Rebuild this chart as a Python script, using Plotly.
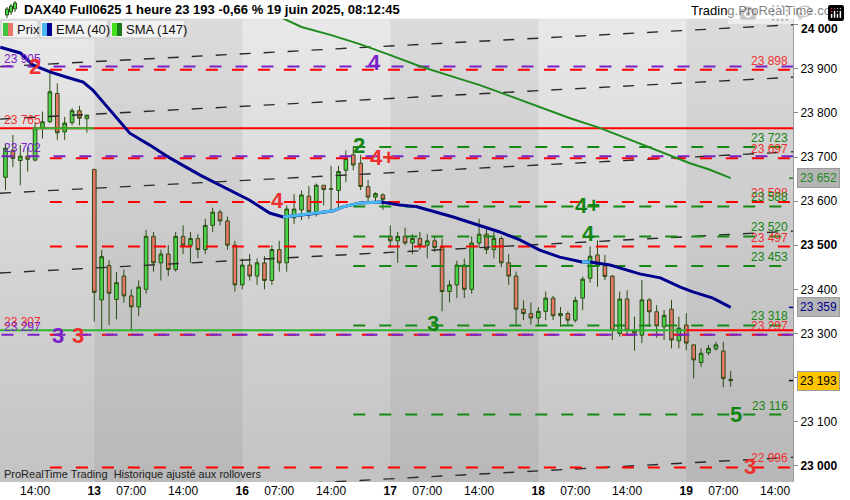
import plotly.graph_objects as go

# ---------------- data ----------------
# bar index: 0 = 13 June 02:00 ; 20 hourly bars per day (02:00 .. 21:00)
bar_idx = list(range(-12, 87))
opens = [23654, 23715, 23692, 23702, 23693, 23765, 23780, 23844, 23757, 23778, 23805, 23787,
         23672, 23376, 23454, 23377, 23430, 23385, 23360, 23400, 23520, 23460, 23480, 23445, 23520, 23500, 23515, 23490, 23545, 23575, 23555, 23500,
         23410, 23455, 23430, 23460, 23420, 23490, 23460, 23562, 23580, 23611, 23576, 23636, 23627, 23624, 23670, 23705, 23686, 23633, 23609, 23614,
         23520, 23510, 23520, 23505, 23515, 23500, 23510, 23495, 23395, 23410, 23455, 23400, 23505, 23525, 23490, 23515, 23460, 23430, 23355, 23345,
         23335, 23350, 23380, 23340, 23345, 23330, 23380, 23425, 23478, 23453, 23430, 23300, 23378, 23307, 23296, 23376, 23349, 23315, 23355, 23283,
         23319, 23274, 23234, 23256, 23265, 23260, 23196]
highs = [23731, 23750, 23727, 23723, 23777, 23803, 23896, 23867, 23791, 23811, 23816, 23795,
         23672, 23489, 23466, 23439, 23445, 23400, 23420, 23535, 23530, 23490, 23500, 23530, 23545, 23530, 23525, 23560, 23585, 23580, 23565, 23510,
         23470, 23480, 23470, 23475, 23500, 23510, 23590, 23616, 23624, 23634, 23640, 23636, 23680, 23680, 23715, 23724, 23705, 23648, 23620, 23618,
         23545, 23530, 23540, 23525, 23530, 23525, 23520, 23515, 23420, 23465, 23470, 23520, 23560, 23540, 23530, 23520, 23480, 23440, 23375, 23370,
         23360, 23395, 23385, 23360, 23350, 23383, 23429, 23497, 23511, 23478, 23432, 23395, 23398, 23338, 23421, 23380, 23364, 23353, 23376, 23338,
         23346, 23274, 23266, 23274, 23281, 23281, 23215]
lows = [23625, 23677, 23636, 23667, 23690, 23742, 23777, 23739, 23739, 23772, 23772, 23755,
        23327, 23308, 23319, 23332, 23370, 23305, 23340, 23390, 23440, 23420, 23430, 23440, 23480, 23460, 23470, 23480, 23530, 23545, 23490, 23395,
        23400, 23420, 23410, 23400, 23410, 23440, 23440, 23548, 23557, 23560, 23565, 23590, 23575, 23580, 23643, 23670, 23625, 23595, 23600, 23580,
        23495, 23460, 23500, 23480, 23490, 23470, 23485, 23350, 23370, 23380, 23380, 23390, 23495, 23480, 23470, 23450, 23410, 23320, 23330, 23320,
        23315, 23330, 23330, 23315, 23320, 23325, 23353, 23415, 23406, 23421, 23285, 23293, 23296, 23261, 23278, 23315, 23290, 23285, 23266, 23266,
        23262, 23198, 23224, 23251, 23261, 23178, 23179]
closes = [23720, 23697, 23702, 23695, 23766, 23780, 23848, 23755, 23777, 23805, 23788, 23795,
          23393, 23474, 23391, 23415, 23385, 23360, 23405, 23520, 23460, 23480, 23445, 23520, 23500, 23515, 23490, 23545, 23575, 23555, 23500, 23410,
          23455, 23430, 23460, 23420, 23490, 23460, 23582, 23582, 23614, 23576, 23636, 23626, 23628, 23667, 23697, 23682, 23633, 23609, 23617, 23604,
          23510, 23520, 23505, 23515, 23500, 23510, 23495, 23395, 23410, 23455, 23400, 23505, 23525, 23490, 23515, 23460, 23430, 23355, 23345, 23335,
          23350, 23380, 23340, 23345, 23330, 23375, 23423, 23475, 23453, 23429, 23307, 23378, 23307, 23301, 23376, 23349, 23317, 23341, 23285, 23312,
          23278, 23240, 23255, 23266, 23274, 23198, 23193]

# EMA(40) read at sample bars
ema_idx = [-12.7, -10.0, -8.3, -6.0, -3.7, -1.5, -0.2, 2.1, 3.5, 4.8, 7.5, 10.2, 14.3, 18.3, 21.0, 23.7, 25.5,
           29.2, 32.3, 33.6, 35.9, 38.8, 41.3, 43.6, 46.3, 48.5, 54.8, 57.5, 60.2, 62.9, 65.9, 67.0,
           69.7, 72.0, 73.7, 76.5, 79.2, 80.9, 83.6, 86.0]
ema_val = [23949, 23936, 23909, 23893, 23881, 23870, 23852, 23807, 23777, 23754, 23727, 23698, 23659, 23625, 23602, 23573, 23564,
           23571, 23578, 23587, 23596, 23598, 23591, 23587, 23575, 23564, 23530, 23512, 23489, 23473, 23462, 23462,
           23455, 23444, 23435, 23426, 23405, 23394, 23380, 23359]
ema_rising = [(25.5, 38.8), (65.9, 67.0)]

# SMA(147) read at sample bars
sma_idx = [23.5, 28.0, 31.9, 35.9, 40.0, 44.0, 48.1, 52.1, 56.2, 60.2, 64.3, 68.3, 72.4, 75.1, 77.8, 80.5, 83.2, 86.0]
sma_val = [24030, 23995, 23977, 23956, 23931, 23906, 23884, 23863, 23838, 23813, 23788, 23766, 23739, 23720, 23702, 23686, 23671, 23652]

# horizontal levels
purple_levels = [23905, 23702, 23297]
red_levels = [23898, 23697, 23598, 23497, 23297, 22996]
green_levels = [23723, 23588, 23520, 23453, 23318, 23116]
red_solid = 23765
green_solid_short = 23765
support_level = 23307

# trend channel (value at left edge, value at right edge)
trend_left = [23905, 23786, 23618, 23437, 22923]
trend_right = [24000, 23881, 23712, 23532, 23019]

# x tick labels
tick_idx = [-8, 0, 5, 12, 20, 25, 32, 40, 45, 52, 60, 65, 72, 80, 85, 92]
tick_txt = ["14:00", "<b>13</b>", "07:00", "14:00", "<b>16</b>", "07:00", "14:00", "<b>17</b>", "07:00", "14:00",
            "<b>18</b>", "07:00", "14:00", "<b>19</b>", "07:00", "14:00"]
y_ticks = [23000, 23100, 23200, 23300, 23400, 23500, 23600, 23700, 23800, 23900, 24000]

day_starts = [0, 20, 40, 60, 80]

# ---------------- layout constants ----------------
W, H = 850, 500
ML, MR, MT, MB = 0, 57, 19, 18
PW = W - ML - MR
PH = H - MT - MB
X0, X1 = -12.74, 94.42
Y0, Y1 = 22963, 24013
FONT = "Liberation Sans, Arial, sans-serif"

def fx(p):
    return p / PW

def fy(p):
    return (H - MB - p) / PH

def sp(v):
    return f"{int(v):,}".replace(",", " ")

RED = "#ff0000"
PURPLE = "#7a22c8"
GREEN = "#148a14"
LBL_RED = "#ee3030"
LBL_GREEN = "#138513"

fig = go.Figure()

# level lines
def seg(x0, x1, v, color, dash, width=1.6):
    fig.add_trace(go.Scatter(x=[x0, x1], y=[v, v], mode="lines", hoverinfo="skip", showlegend=False,
                             line=dict(color=color, width=width, dash=dash)))

for i in range(len(trend_left)):
    fig.add_trace(go.Scatter(x=[X0, X1], y=[trend_left[i], trend_right[i]], mode="lines", hoverinfo="skip",
                             showlegend=False, line=dict(color="#2a2a2a", width=1.4, dash="11px,13px")))

seg(X0, X1, red_solid, RED, "solid", 2)
seg(-8.3, 0, green_solid_short, "#2db52d", "solid", 2)
seg(X0, 80, support_level, "#2db52d", "solid", 2)
seg(80, X1, support_level, RED, "solid", 2)
for v in red_levels:
    seg(-6.0, X1, v, RED, "12px,14px", 2)
for v in purple_levels:
    fig.add_trace(go.Scatter(x=[X0 + 0.2, X1], y=[v, v], mode="lines", hoverinfo="skip", showlegend=False,
                             line=dict(color=PURPLE, width=2, dash="12px,14px")))
for v in green_levels:
    seg(35.0, X1, v, GREEN, "12px,14px", 2)

# candles
fig.add_trace(go.Candlestick(
    x=bar_idx, open=opens, high=highs, low=lows, close=closes,
    increasing=dict(fillcolor="#4ad44a", line=dict(color="#2a4d12", width=1)),
    decreasing=dict(fillcolor="#e8766a", line=dict(color="#2a4d12", width=1)),
    whiskerwidth=0, showlegend=False, hoverinfo="skip"))

# SMA
fig.add_trace(go.Scatter(x=sma_idx, y=sma_val, mode="lines", line=dict(color="#1f8a1f", width=2),
                         showlegend=False, hoverinfo="skip"))
# EMA
fig.add_trace(go.Scatter(x=ema_idx, y=ema_val, mode="lines", line=dict(color="#00008c", width=3),
                         showlegend=False, hoverinfo="skip"))
for a, b in ema_rising:
    xs = [x for x in ema_idx if a <= x <= b]
    ys = [ema_val[ema_idx.index(x)] for x in xs]
    fig.add_trace(go.Scatter(x=xs, y=ys, mode="lines", line=dict(color="#4ab8f0", width=3),
                             showlegend=False, hoverinfo="skip"))

# ---------------- background ----------------
shapes = []
N = 40
for k in range(N):
    t = (k + 0.5) / N
    c = int(233 - 38 * t)
    shapes.append(dict(type="rect", xref="paper", yref="paper", x0=0, x1=1,
                       y0=1 - (k + 1) / N, y1=1 - k / N + 0.001, layer="below",
                       line=dict(width=0), fillcolor=f"rgb({c},{c},{c})"))
for j, d in enumerate(day_starts):
    if j % 2 == 0:
        x1 = day_starts[j + 1] if j + 1 < len(day_starts) else X1
        shapes.append(dict(type="rect", xref="x", yref="paper", x0=d, x1=x1, y0=0, y1=1,
                           layer="below", line=dict(width=0), fillcolor="rgba(0,0,0,0.055)"))

# legend boxes
boxes = [(1, 38, "Prix", "#3ec43e", "#e8766a"),
         (40, 108, "EMA (40)", "#4ab8f0", "#00008c"),
         (110, 185, "SMA (147)", "#44e01a", "#1a7a1a")]
anns = []
for x0, x1, txt, c1, c2 in boxes:
    shapes.append(dict(type="rect", xref="paper", yref="paper", x0=fx(x0), x1=fx(x1), y0=fy(38), y1=fy(20),
                       fillcolor="#f2f2f2", line=dict(color="#c8c8c8", width=1)))
    shapes.append(dict(type="rect", xref="paper", yref="paper", x0=fx(x0 + 2), x1=fx(x0 + 7), y0=fy(36), y1=fy(23),
                       fillcolor=c1, line=dict(width=0)))
    shapes.append(dict(type="rect", xref="paper", yref="paper", x0=fx(x0 + 7), x1=fx(x0 + 12), y0=fy(36), y1=fy(23),
                       fillcolor=c2, line=dict(width=0)))
    anns.append(dict(text=txt, xref="paper", yref="paper", x=fx(x0 + 14), y=fy(29.5), xanchor="left",
                     yanchor="middle", showarrow=False, font=dict(family=FONT, size=13, color="#111")))

# header icon
for cx, top, bot in [(7, 9, 15), (11, 6, 12), (15, 3, 9)]:
    shapes.append(dict(type="line", xref="paper", yref="paper", x0=fx(cx), x1=fx(cx), y0=fy(bot + 3), y1=fy(top - 2),
                       line=dict(color="#2a4d12", width=1)))
    shapes.append(dict(type="rect", xref="paper", yref="paper", x0=fx(cx - 1.5), x1=fx(cx + 1.5), y0=fy(bot), y1=fy(top),
                       fillcolor="#4ad44a", line=dict(color="#2a4d12", width=1)))

# axis price markers
for v, col in [(23652, "#1f8a1f"), (23359, "#00008c"), (23193, "#000000")]:
    shapes.append(dict(type="line", xref="paper", yref="y", x0=fx(789), x1=fx(793), y0=v, y1=v,
                       line=dict(color=col, width=1.5)))

# header texts
anns.append(dict(text="<b>DAX40 Full0625 1 heure 23 193 -0,66 % 19 juin 2025, 08:12:45</b>", xref="paper", yref="paper",
                 x=fx(22), y=fy(10), xanchor="left", yanchor="middle", showarrow=False,
                 font=dict(family=FONT, size=13, color="#000")))
anns.append(dict(text="Trading.ProRealTime.com", xref="paper", yref="paper", x=fx(844), y=fy(11),
                 xanchor="right", yanchor="middle", showarrow=False, font=dict(family=FONT, size=13, color="#000")))
anns.append(dict(text="ProRealTime Trading  Historique ajusté aux rollovers", xref="paper", yref="paper",
                 x=fx(2), y=fy(474), xanchor="left", yanchor="middle", showarrow=False,
                 font=dict(family=FONT, size=11, color="#222")))
# top axis label nudged below the header, as in the original
anns.append(dict(text="<b>24 000</b>", xref="paper", yref="paper", x=fx(799), y=fy(29.5), xanchor="left",
                 yanchor="middle", showarrow=False, font=dict(family=FONT, size=12, color="#000")))

# right level labels (inside plot)
right_labels = [(v, LBL_RED) for v in red_levels] + [(v, LBL_GREEN) for v in green_levels]
for v, col in right_labels:
    anns.append(dict(text=sp(v), xref="paper", yref="y", x=fx(790), y=v, yshift=9, xanchor="right",
                     yanchor="middle", showarrow=False, font=dict(family=FONT, size=12, color=col)))
# left level labels
left_labels = [(23905, PURPLE), (red_solid, LBL_RED), (23702, PURPLE), (support_level, LBL_RED), (23297, PURPLE)]
for v, col in left_labels:
    anns.append(dict(text=sp(v), xref="paper", yref="y", x=fx(2), y=v, yshift=8, xanchor="left",
                     yanchor="middle", showarrow=False, font=dict(family=FONT, size=12, color=col)))

# wave labels
wave_labels = [("2", -8.0, 23906, LBL_RED), ("4", 37.9, 23915, PURPLE), ("2", 35.8, 23727, LBL_GREEN),
               ("4+", 38.9, 23700, LBL_RED), ("4", 24.8, 23602, LBL_RED), ("4+", 66.7, 23589, LBL_GREEN),
               ("4", 66.8, 23527, LBL_GREEN), ("3", 45.8, 23323, LBL_GREEN), ("3", -4.9, 23296, PURPLE),
               ("3", -2.2, 23296, LBL_RED), ("5", 86.7, 23117, LBL_GREEN), ("3", 88.6, 22999, LBL_RED)]
for t, x, v, col in wave_labels:
    anns.append(dict(text=f"<b>{t}</b>", xref="x", yref="y", x=x, y=v, xanchor="center", yanchor="middle",
                     showarrow=False, font=dict(family=FONT, size=22, color=col)))

# price boxes on the axis
for v, col, bg in [(23652, "#1f8a1f", "#b4b4b4"), (23359, "#00008c", "#b4b4b4"), (23193, "#000000", "#ffc400")]:
    anns.append(dict(text=sp(v), xref="paper", yref="y", x=fx(797), y=v, xanchor="left", yanchor="middle",
                     showarrow=False, bgcolor=bg, bordercolor="#9a9a9a", borderwidth=1, borderpad=2,
                     font=dict(family=FONT, size=12, color=col)))

y_text = []
for v in y_ticks:
    if v in (23200, 24000):
        y_text.append("")
    elif v in (23000, 23500):
        y_text.append("<b>" + sp(v) + "</b>")
    else:
        y_text.append(sp(v))

fig.update_layout(
    width=W, height=H, margin=dict(l=ML, r=MR, t=MT, b=MB),
    paper_bgcolor="#ffffff", plot_bgcolor="#d8d8d8",
    shapes=shapes, annotations=anns, showlegend=False,
    xaxis=dict(range=[X0, X1], showgrid=False, zeroline=False, rangeslider=dict(visible=False),
               tickvals=tick_idx, ticktext=tick_txt, tickfont=dict(family=FONT, size=12, color="#000"),
               ticks="", showline=False, fixedrange=True),
    yaxis=dict(range=[Y0, Y1], side="right", showgrid=False, zeroline=False, tickvals=y_ticks, ticktext=y_text,
               tickfont=dict(family=FONT, size=12, color="#000"), ticks="outside", ticklen=4, tickcolor="#888",
               showline=True, linecolor="#9a9a9a", linewidth=1, fixedrange=True),
)

fig.write_html("out.html", post_script="document.body.style.margin='0';document.body.style.overflow='hidden';")
